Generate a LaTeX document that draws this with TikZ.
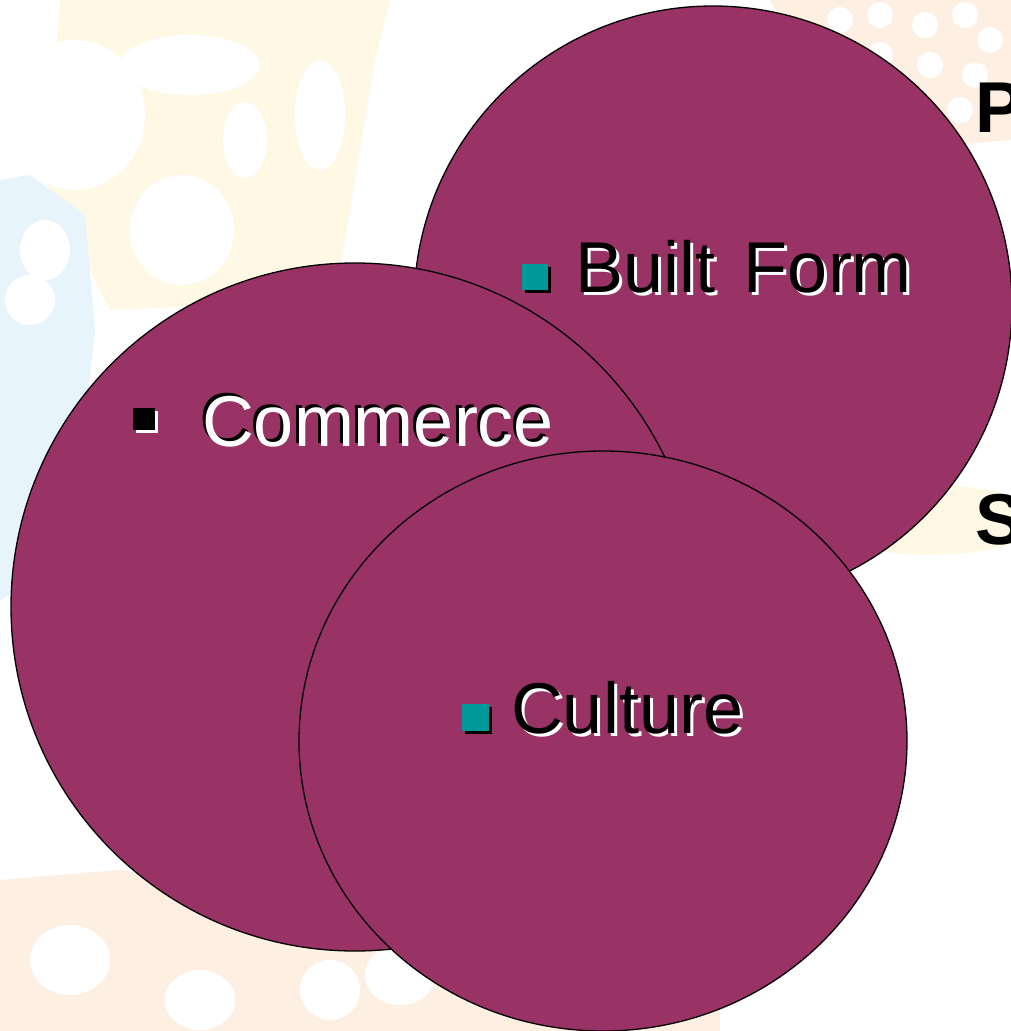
\documentclass[tikz,border=0pt]{standalone}
\usepackage{fontspec}
\setmainfont{Liberation Sans}
\usetikzlibrary{shapes.geometric}
\definecolor{circfill}{HTML}{993366}
\definecolor{bullteal}{HTML}{009999}
\definecolor{bgyel}{HTML}{FFF8E4}
\definecolor{bgora}{HTML}{FDF0E2}
\definecolor{bgblue}{HTML}{E8F4FC}
\begin{document}
\begin{tikzpicture}[x=1pt,y=-1pt,
  circ/.style={draw=black,fill=circfill,line width=1.3pt,inner sep=0pt,outer sep=0pt},
  lbl/.style={inner sep=0pt,outer sep=0pt,anchor=base west,font=\fontsize{72}{86}\selectfont},
  lblfront/.style={lbl,text=black},
  lblback/.style={lbl,text=white},
  sideletter/.style={inner sep=0pt,anchor=base west,font=\fontsize{72}{86}\selectfont\bfseries,text=black},
  bull/.style={rectangle,inner sep=0pt,outer sep=0pt,minimum size=#1},
  bull/.default=26pt]
\useasboundingbox (0,0) rectangle (1011,1031);
\clip (0,0) rectangle (1011,1031);
\fill[white] (0,0) rectangle (1011,1031);
% faint background pattern
\fill[bgyel] (60,0) -- (390,0) -- (375,60) -- (335,300) -- (110,310) -- (45,180) -- cycle;
\fill[white] (75,115) ellipse [x radius=70pt, y radius=75pt];
\fill[white] (190,65) ellipse [x radius=70pt, y radius=30pt];
\fill[white] (182,230) ellipse [x radius=52pt, y radius=55pt];
\fill[white] (245,140) ellipse [x radius=22pt, y radius=38pt];
\fill[white] (320,115) ellipse [x radius=25pt, y radius=55pt];
\fill[bgblue] (0,180) -- (30,175) -- (85,215) -- (95,330) -- (70,560) -- (0,600) -- cycle;
\fill[white] (45,250) ellipse [x radius=25pt, y radius=30pt];
\fill[white] (30,300) ellipse [x radius=25pt, y radius=25pt];
\fill[bgora] (770,0) -- (1011,0) -- (1011,140) -- (900,150) -- (810,70) -- cycle;
\foreach \px/\py in {840/20,880/15,925/25,965/15,990/40,880/55,930/65,975/75,960/110}
  \fill[white] (\px,\py) circle [radius=13pt];
\fill[bgyel] (930,520) ellipse [x radius=110pt, y radius=35pt];
\fill[bgora] (0,880) -- (120,870) -- (300,900) -- (330,1031) -- (0,1031) -- cycle;
\fill[white] (70,960) ellipse [x radius=40pt, y radius=35pt];
\fill[white] (200,1000) ellipse [x radius=35pt, y radius=30pt];
\fill[bgora] (300,940) -- (720,960) -- (720,1031) -- (300,1031) -- cycle;
\fill[white] (400,975) ellipse [x radius=35pt, y radius=30pt];
\fill[white] (330,990) ellipse [x radius=30pt, y radius=30pt];
% side letters (cut by the edge)
\node[sideletter] (pl) at (975,132) {P};
\node[sideletter] (sl) at (975,544) {S};
% circles
\node[circ,circle,minimum size=598pt] (bfc) at (713,305) {};
\node[circ,circle,minimum size=688pt] (cmc) at (355,607) {};
\node[circ,ellipse,minimum width=608pt,minimum height=580pt] (clc) at (603,741) {};
% Built Form
\node[bull=26pt,fill=black] (bfbs) at (538,280) {};
\node[bull=26pt,fill=bullteal] (bfb) at (535,277) {};
\node[lblback] (bfts) at (578,295) {Built\hspace{9pt} Form};
\node[lblfront] (bft) at (575,292) {Built\hspace{9pt} Form};
% Commerce
\node[bull=22pt,fill=white] (cmbs) at (147,422) {};
\node[bull=22pt,fill=black] (cmb) at (144,419) {};
\node[lblfront] (cmts) at (199,443) {Commerce};
\node[lblback] (cmt) at (202,446) {Commerce};
% Culture
\node[bull=27pt,fill=black] (clbs) at (478,720) {};
\node[bull=27pt,fill=bullteal] (clb) at (475,717) {};
\node[lblback] (clts) at (514,736) {Culture};
\node[lblfront] (clt) at (511,733) {Culture};
\end{tikzpicture}
\end{document}
